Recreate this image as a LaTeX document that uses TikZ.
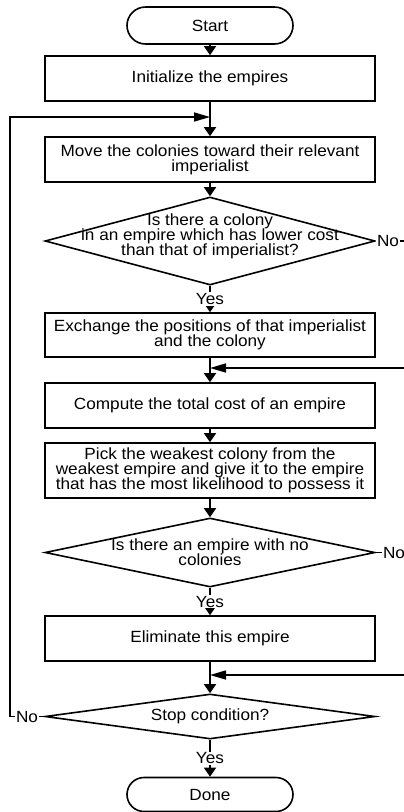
\documentclass[tikz,border=0pt]{standalone}
\usepackage{fontspec}
\setmainfont{Liberation Sans}[FakeStretch=1.06]
\usepackage{tikz}
\usetikzlibrary{arrows.meta,shapes.geometric,shapes.misc}

\tikzset{
  base/.style={draw, line width=1.6pt, align=center, inner sep=0pt,
    font=\fontsize{16.2}{14.8}\selectfont},
  process/.style={base, rectangle, minimum width=330pt, minimum height=#1},
  process/.default=45pt,
  terminal/.style={base, rounded rectangle, minimum width=166pt, minimum height=#1},
  decision/.style={base, diamond, minimum width=330pt, minimum height=#1},
  dectext/.style={align=center, inner sep=0pt,
    font=\fontsize{16.2}{14.8}\selectfont},
  lbl/.style={font=\fontsize{16.2}{17}\selectfont, fill=white, inner sep=1pt},
  flow/.style={line width=1.6pt, -{Triangle[length=9pt,width=12pt]}},
  feed/.style={line width=1.6pt, -{Triangle[length=16pt,width=9pt]}},
  wire/.style={line width=1.6pt}
}

\begin{document}
\setlength{\lineskiplimit}{-100pt}
\begin{tikzpicture}[x=1pt,y=-1pt]
  \clip (0,0) rectangle (404,812);

  % Main column
  \node[terminal=37pt] (start) at (210,25.5) {Start};
  \node[process] (init) at (210,78.5) {Initialize the empires};
  \node[process] (move) at (210,159.5)
    {Move the colonies toward their relevant\\imperialist};
  \node[decision=88pt] (dcol) at (210,241) {};
  \node[dectext] (dcoltxt) at (210,236.5)
    {Is there a colony\\in an empire which has lower cost\\than that of imperialist?};
  \node[process=44pt] (swap) at (210,335)
    {Exchange the positions of that imperialist\\and the colony};
  \node[process] (cost) at (210,405.5) {Compute the total cost of an empire};
  \node[process=55pt] (pick) at (210,470.5)
    {Pick the weakest colony from the\\weakest empire and give it to the empire\\that has the most likelihood to possess it};
  \node[decision=69pt] (dempty) at (210,552.5) {};
  \node[dectext] (demptytxt) at (dempty) {Is there an empire with no\\colonies};
  \node[process] (elim) at (210,638.5) {Eliminate this empire};
  \node[decision=45pt] (dstop) at (210,716.5) {};
  \node[dectext] (dstoptxt) at (dstop) {Stop condition?};
  \node[terminal=34pt] (done) at (210,794.5) {Done};

  % Junctions
  \coordinate (join1) at (210,117);
  \coordinate (join2) at (210,368);
  \coordinate (join3) at (210,675);

  % Downward flow
  \draw[flow] (start) -- (init);
  \draw[flow] (init) -- (move);
  \draw[flow] (move) -- (dcol);
  \draw[flow] (dcol.south) -- node[lbl] (yescol) {Yes} (swap);
  \draw[flow] (swap) -- (cost);
  \draw[flow] (cost) -- (pick);
  \draw[flow] (pick) -- (dempty);
  \draw[flow] (dempty.south) -- node[lbl] (yesempty) {Yes} (elim);
  \draw[flow] (elim) -- (dstop);
  \draw[flow] (dstop.south) -- node[lbl] (yesstop) {Yes} (done);

  % No branches on the right
  \node[lbl, anchor=west] (nocol) at (dcol.east) {No};
  \draw[wire] (nocol.east) -- (420,241);
  \draw[feed] (420,241) |- (join2);
  \node[lbl, anchor=west] (noempty) at ([xshift=6pt]dempty.east) {No};
  \draw[wire] (dempty.east) -- (noempty.west);
  \draw[wire] (noempty.east) -- (420,552.5);
  \draw[feed] (420,552.5) |- (join3);

  % Loop back on the left
  \node[lbl] (nostop) at (27,716.5) {No};
  \draw[wire] (dstop.west) -- (nostop.east);
  \draw[feed] (nostop.west) -| (10,117) -- (join1);
\end{tikzpicture}
\end{document}
